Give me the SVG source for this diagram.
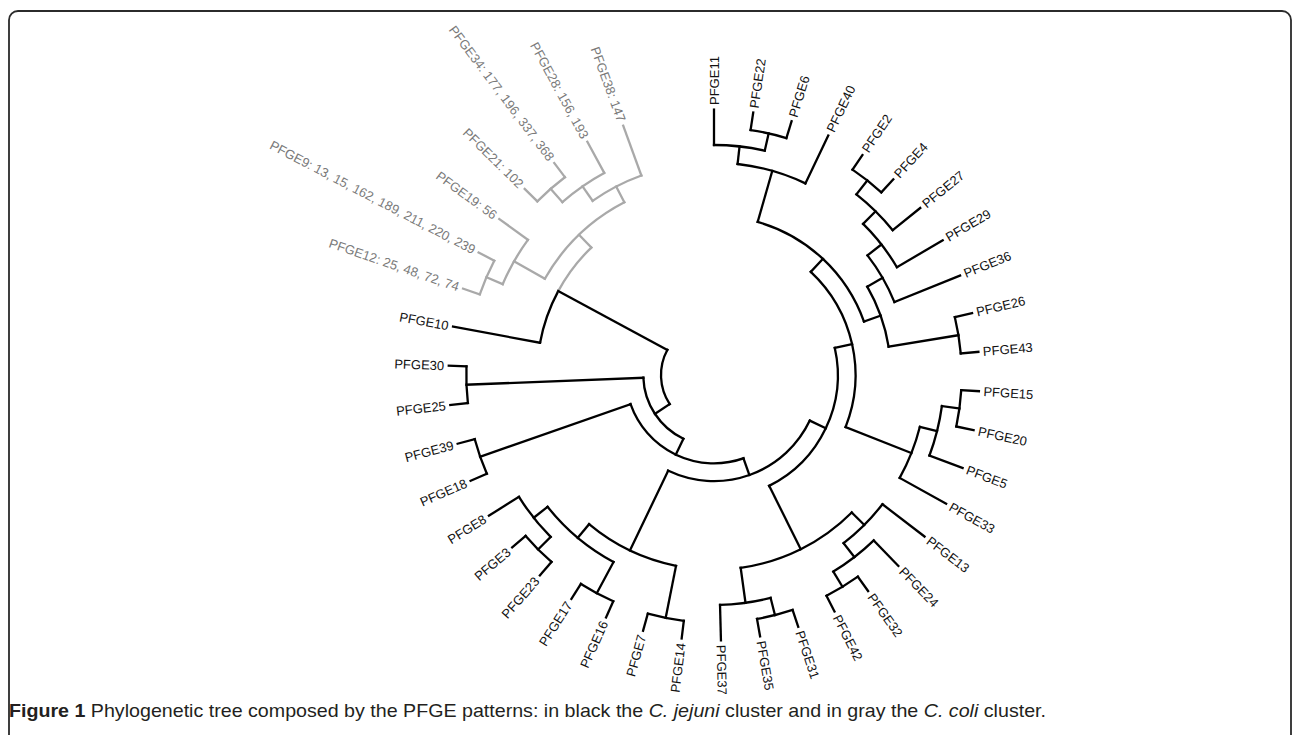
<svg xmlns="http://www.w3.org/2000/svg" width="1293" height="735" viewBox="0 0 1293 735">
<style>
.b{stroke:#000;stroke-width:2.3;fill:none;stroke-linecap:square}
.g{stroke:#a9a9a9;stroke-width:2.3;fill:none;stroke-linecap:square}
text{font-family:"Liberation Sans",Arial,sans-serif}
.t{font-size:13px;fill:#111}
.tg{font-size:13px;fill:#7a7a7a}
.l{text-anchor:end}
</style>
<rect x="9" y="11" width="1282" height="800" rx="9" fill="#fff" stroke="#2b2b2b" stroke-width="1.8"/>
<g transform="translate(714,375)">
<g id="connectors">
<circle class="b" r="247.7" stroke-dasharray="36.75 2000" transform="rotate(-81.5)"/>
<circle class="b" r="230" stroke-dasharray="51.18 2000" transform="rotate(-90)"/>
<circle class="b" r="212.3" stroke-dasharray="70.87 2000" transform="rotate(-83.625)"/>
<circle class="b" r="247.7" stroke-dasharray="36.75 2000" transform="rotate(-56)"/>
<circle class="b" r="230" stroke-dasharray="51.18 2000" transform="rotate(-51.75)"/>
<circle class="b" r="212.3" stroke-dasharray="55.12 2000" transform="rotate(-45.375)"/>
<circle class="b" r="194.6" stroke-dasharray="54.13 2000" transform="rotate(-37.9375)"/>
<circle class="b" r="247.7" stroke-dasharray="36.75 2000" transform="rotate(-13.5)"/>
<circle class="b" r="176.9" stroke-dasharray="63.97 2000" transform="rotate(-29.969)"/>
<circle class="b" r="159.2" stroke-dasharray="151.30 2000" transform="rotate(-74.0625)"/>
<circle class="b" r="247.7" stroke-dasharray="36.75 2000" transform="rotate(3.5)"/>
<circle class="b" r="230" stroke-dasharray="51.18 2000" transform="rotate(7.75)"/>
<circle class="b" r="212.3" stroke-dasharray="55.12 2000" transform="rotate(14.125)"/>
<circle class="b" r="141.5" stroke-dasharray="168.92 2000" transform="rotate(-46.836)"/>
<circle class="b" r="247.7" stroke-dasharray="36.75 2000" transform="rotate(54.5)"/>
<circle class="b" r="230" stroke-dasharray="51.18 2000" transform="rotate(46)"/>
<circle class="b" r="212.3" stroke-dasharray="55.12 2000" transform="rotate(37.5)"/>
<circle class="b" r="247.7" stroke-dasharray="36.75 2000" transform="rotate(71.5)"/>
<circle class="b" r="230" stroke-dasharray="51.18 2000" transform="rotate(75.75)"/>
<circle class="b" r="194.6" stroke-dasharray="126.30 2000" transform="rotate(44.9375)"/>
<circle class="b" r="123.8" stroke-dasharray="164.58 2000" transform="rotate(-12.637)"/>
<circle class="b" r="247.7" stroke-dasharray="36.75 2000" transform="rotate(97)"/>
<circle class="b" r="247.7" stroke-dasharray="36.75 2000" transform="rotate(114)"/>
<circle class="b" r="247.7" stroke-dasharray="36.75 2000" transform="rotate(131)"/>
<circle class="b" r="230" stroke-dasharray="51.18 2000" transform="rotate(135.25)"/>
<circle class="b" r="212.3" stroke-dasharray="86.61 2000" transform="rotate(118.25)"/>
<circle class="b" r="194.6" stroke-dasharray="97.43 2000" transform="rotate(101.25)"/>
<circle class="b" r="106.1" stroke-dasharray="166.93 2000" transform="rotate(25.447)"/>
<circle class="b" r="247.7" stroke-dasharray="36.75 2000" transform="rotate(156.5)"/>
<circle class="b" r="88.4" stroke-dasharray="139.21 2000" transform="rotate(70.52)"/>
<circle class="b" r="247.7" stroke-dasharray="36.75 2000" transform="rotate(173.5)"/>
<circle class="b" r="70.7" stroke-dasharray="76.65 2000" transform="rotate(115.635)"/>
<circle class="b" r="53" stroke-dasharray="56.99 2000" transform="rotate(146.69)"/>
<circle class="b" r="176.9" stroke-dasharray="54.95 2000" transform="rotate(190.5)"/>
<circle class="g" r="176.9" stroke-dasharray="54.95 2000" transform="rotate(208.297)"/>
<circle class="g" r="194.6" stroke-dasharray="111.87 2000" transform="rotate(209.625)"/>
<circle class="g" r="247.7" stroke-dasharray="36.75 2000" transform="rotate(199)"/>
<circle class="g" r="230" stroke-dasharray="51.18 2000" transform="rotate(203.25)"/>
<circle class="g" r="247.7" stroke-dasharray="36.75 2000" transform="rotate(224.5)"/>
<circle class="g" r="230" stroke-dasharray="51.18 2000" transform="rotate(228.75)"/>
<circle class="g" r="212.3" stroke-dasharray="55.12 2000" transform="rotate(235.125)"/>
<line class="b" x1="230" x2="265.4" transform="rotate(-90)"/>
<line class="b" x1="247.7" x2="265.4" transform="rotate(-81.5)"/>
<line class="b" x1="247.7" x2="265.4" transform="rotate(-73)"/>
<line class="b" x1="212.3" x2="265.4" transform="rotate(-64.5)"/>
<line class="b" x1="247.7" x2="265.4" transform="rotate(-56)"/>
<line class="b" x1="247.7" x2="265.4" transform="rotate(-47.5)"/>
<line class="b" x1="230" x2="265.4" transform="rotate(-39)"/>
<line class="b" x1="212.3" x2="265.4" transform="rotate(-30.5)"/>
<line class="b" x1="194.6" x2="265.4" transform="rotate(-22)"/>
<line class="b" x1="247.7" x2="265.4" transform="rotate(-13.5)"/>
<line class="b" x1="247.7" x2="265.4" transform="rotate(-5)"/>
<line class="b" x1="247.7" x2="265.4" transform="rotate(3.5)"/>
<line class="b" x1="247.7" x2="265.4" transform="rotate(12)"/>
<line class="b" x1="230" x2="265.4" transform="rotate(20.5)"/>
<line class="b" x1="212.3" x2="265.4" transform="rotate(29)"/>
<line class="b" x1="212.3" x2="265.4" transform="rotate(37.5)"/>
<line class="b" x1="230" x2="265.4" transform="rotate(46)"/>
<line class="b" x1="247.7" x2="265.4" transform="rotate(54.5)"/>
<line class="b" x1="247.7" x2="265.4" transform="rotate(63)"/>
<line class="b" x1="247.7" x2="265.4" transform="rotate(71.5)"/>
<line class="b" x1="247.7" x2="265.4" transform="rotate(80)"/>
<line class="b" x1="230" x2="265.4" transform="rotate(88.5)"/>
<line class="b" x1="247.7" x2="265.4" transform="rotate(97)"/>
<line class="b" x1="247.7" x2="265.4" transform="rotate(105.5)"/>
<line class="b" x1="247.7" x2="265.4" transform="rotate(114)"/>
<line class="b" x1="247.7" x2="265.4" transform="rotate(122.5)"/>
<line class="b" x1="247.7" x2="265.4" transform="rotate(131)"/>
<line class="b" x1="247.7" x2="265.4" transform="rotate(139.5)"/>
<line class="b" x1="230" x2="265.4" transform="rotate(148)"/>
<line class="b" x1="247.7" x2="265.4" transform="rotate(156.5)"/>
<line class="b" x1="247.7" x2="265.4" transform="rotate(165)"/>
<line class="b" x1="247.7" x2="265.4" transform="rotate(173.5)"/>
<line class="b" x1="247.7" x2="265.4" transform="rotate(182)"/>
<line class="b" x1="176.9" x2="265.4" transform="rotate(190.5)"/>
<line class="g" x1="247.7" x2="265.4" transform="rotate(199)"/>
<line class="g" x1="247.7" x2="265.4" transform="rotate(207.5)"/>
<line class="g" x1="230" x2="265.4" transform="rotate(216)"/>
<line class="g" x1="247.7" x2="265.4" transform="rotate(224.5)"/>
<line class="g" x1="247.7" x2="265.4" transform="rotate(233)"/>
<line class="g" x1="230" x2="265.4" transform="rotate(241.5)"/>
<line class="g" x1="212.3" x2="265.4" transform="rotate(250)"/>
<line class="b" x1="230" x2="247.7" transform="rotate(-77.25)"/>
<line class="b" x1="212.3" x2="230" transform="rotate(-83.625)"/>
<line class="b" x1="159.2" x2="212.3" transform="rotate(-74.0625)"/>
<line class="b" x1="230" x2="247.7" transform="rotate(-51.75)"/>
<line class="b" x1="212.3" x2="230" transform="rotate(-45.375)"/>
<line class="b" x1="194.6" x2="212.3" transform="rotate(-37.9375)"/>
<line class="b" x1="176.9" x2="194.6" transform="rotate(-29.969)"/>
<line class="b" x1="176.9" x2="247.7" transform="rotate(-9.25)"/>
<line class="b" x1="159.2" x2="176.9" transform="rotate(-19.609)"/>
<line class="b" x1="141.5" x2="159.2" transform="rotate(-46.836)"/>
<line class="b" x1="230" x2="247.7" transform="rotate(7.75)"/>
<line class="b" x1="212.3" x2="230" transform="rotate(14.125)"/>
<line class="b" x1="141.5" x2="212.3" transform="rotate(21.5625)"/>
<line class="b" x1="123.8" x2="141.5" transform="rotate(-12.637)"/>
<line class="b" x1="230" x2="247.7" transform="rotate(58.75)"/>
<line class="b" x1="212.3" x2="230" transform="rotate(52.375)"/>
<line class="b" x1="194.6" x2="212.3" transform="rotate(44.9375)"/>
<line class="b" x1="230" x2="247.7" transform="rotate(75.75)"/>
<line class="b" x1="194.6" x2="230" transform="rotate(82.125)"/>
<line class="b" x1="123.8" x2="194.6" transform="rotate(63.531)"/>
<line class="b" x1="106.1" x2="123.8" transform="rotate(25.447)"/>
<line class="b" x1="194.6" x2="247.7" transform="rotate(101.25)"/>
<line class="b" x1="212.3" x2="247.7" transform="rotate(118.25)"/>
<line class="b" x1="230" x2="247.7" transform="rotate(135.25)"/>
<line class="b" x1="212.3" x2="230" transform="rotate(141.625)"/>
<line class="b" x1="194.6" x2="212.3" transform="rotate(129.9375)"/>
<line class="b" x1="106.1" x2="194.6" transform="rotate(115.594)"/>
<line class="b" x1="88.4" x2="106.1" transform="rotate(70.52)"/>
<line class="b" x1="88.4" x2="247.7" transform="rotate(160.75)"/>
<line class="b" x1="70.7" x2="88.4" transform="rotate(115.635)"/>
<line class="b" x1="70.7" x2="247.7" transform="rotate(177.75)"/>
<line class="b" x1="53" x2="70.7" transform="rotate(146.69)"/>
<line class="g" x1="230" x2="247.7" transform="rotate(203.25)"/>
<line class="g" x1="194.6" x2="230" transform="rotate(209.625)"/>
<line class="g" x1="230" x2="247.7" transform="rotate(228.75)"/>
<line class="g" x1="212.3" x2="230" transform="rotate(235.125)"/>
<line class="g" x1="194.6" x2="212.3" transform="rotate(242.5625)"/>
<line class="g" x1="176.9" x2="194.6" transform="rotate(226.094)"/>
<line class="b" x1="53" x2="176.9" transform="rotate(208.297)"/>
</g>
<g id="leaves">
<g id="pfge11"><text class="t" x="270" dy="0.35em" transform="rotate(-90)">PFGE11</text></g>
<g id="pfge22"><text class="t" x="270" dy="0.35em" transform="rotate(-81.5)">PFGE22</text></g>
<g id="pfge6"><text class="t" x="270" dy="0.35em" transform="rotate(-73)">PFGE6</text></g>
<g id="pfge40"><text class="t" x="270" dy="0.35em" transform="rotate(-64.5)">PFGE40</text></g>
<g id="pfge2"><text class="t" x="270" dy="0.35em" transform="rotate(-56)">PFGE2</text></g>
<g id="pfge4"><text class="t" x="270" dy="0.35em" transform="rotate(-47.5)">PFGE4</text></g>
<g id="pfge27"><text class="t" x="270" dy="0.35em" transform="rotate(-39)">PFGE27</text></g>
<g id="pfge29"><text class="t" x="270" dy="0.35em" transform="rotate(-30.5)">PFGE29</text></g>
<g id="pfge36"><text class="t" x="270" dy="0.35em" transform="rotate(-22)">PFGE36</text></g>
<g id="pfge26"><text class="t" x="270" dy="0.35em" transform="rotate(-13.5)">PFGE26</text></g>
<g id="pfge43"><text class="t" x="270" dy="0.35em" transform="rotate(-5)">PFGE43</text></g>
<g id="pfge15"><text class="t" x="270" dy="0.35em" transform="rotate(3.5)">PFGE15</text></g>
<g id="pfge20"><text class="t" x="270" dy="0.35em" transform="rotate(12)">PFGE20</text></g>
<g id="pfge5"><text class="t" x="270" dy="0.35em" transform="rotate(20.5)">PFGE5</text></g>
<g id="pfge33"><text class="t" x="270" dy="0.35em" transform="rotate(29)">PFGE33</text></g>
<g id="pfge13"><text class="t" x="270" dy="0.35em" transform="rotate(37.5)">PFGE13</text></g>
<g id="pfge24"><text class="t" x="270" dy="0.35em" transform="rotate(46)">PFGE24</text></g>
<g id="pfge32"><text class="t" x="270" dy="0.35em" transform="rotate(54.5)">PFGE32</text></g>
<g id="pfge42"><text class="t" x="270" dy="0.35em" transform="rotate(63)">PFGE42</text></g>
<g id="pfge31"><text class="t" x="270" dy="0.35em" transform="rotate(71.5)">PFGE31</text></g>
<g id="pfge35"><text class="t" x="270" dy="0.35em" transform="rotate(80)">PFGE35</text></g>
<g id="pfge37"><text class="t" x="270" dy="0.35em" transform="rotate(88.5)">PFGE37</text></g>
<g id="pfge14"><text class="t l" x="-270" dy="0.35em" transform="rotate(-83)">PFGE14</text></g>
<g id="pfge7"><text class="t l" x="-270" dy="0.35em" transform="rotate(-74.5)">PFGE7</text></g>
<g id="pfge16"><text class="t l" x="-270" dy="0.35em" transform="rotate(-66)">PFGE16</text></g>
<g id="pfge17"><text class="t l" x="-270" dy="0.35em" transform="rotate(-57.5)">PFGE17</text></g>
<g id="pfge23"><text class="t l" x="-270" dy="0.35em" transform="rotate(-49)">PFGE23</text></g>
<g id="pfge3"><text class="t l" x="-270" dy="0.35em" transform="rotate(-40.5)">PFGE3</text></g>
<g id="pfge8"><text class="t l" x="-270" dy="0.35em" transform="rotate(-32)">PFGE8</text></g>
<g id="pfge18"><text class="t l" x="-270" dy="0.35em" transform="rotate(-23.5)">PFGE18</text></g>
<g id="pfge39"><text class="t l" x="-270" dy="0.35em" transform="rotate(-15)">PFGE39</text></g>
<g id="pfge25"><text class="t l" x="-270" dy="0.35em" transform="rotate(-6.5)">PFGE25</text></g>
<g id="pfge30"><text class="t l" x="-270" dy="0.35em" transform="rotate(2)">PFGE30</text></g>
<g id="pfge10"><text class="t l" x="-270" dy="0.35em" transform="rotate(10.5)">PFGE10</text></g>
<g id="pfge12"><text class="tg l" x="-270" dy="0.35em" transform="rotate(19)">PFGE12: 25, 48, 72, 74</text></g>
<g id="pfge9"><text class="tg l" x="-270" dy="0.35em" transform="rotate(27.5)">PFGE9: 13, 15, 162, 189, 211, 220, 239</text></g>
<g id="pfge19"><text class="tg l" x="-270" dy="0.35em" transform="rotate(36)">PFGE19: 56</text></g>
<g id="pfge21"><text class="tg l" x="-270" dy="0.35em" transform="rotate(44.5)">PFGE21: 102</text></g>
<g id="pfge34"><text class="tg l" x="-270" dy="0.35em" transform="rotate(53)">PFGE34: 177, 196, 337, 368</text></g>
<g id="pfge28"><text class="tg l" x="-270" dy="0.35em" transform="rotate(61.5)">PFGE28: 156, 193</text></g>
<g id="pfge38"><text class="tg l" x="-270" dy="0.35em" transform="rotate(70)">PFGE38: 147</text></g>
</g>
</g>
<g id="caption"><text x="9" y="717" font-size="18.5" fill="#231f20" textLength="1037" lengthAdjust="spacingAndGlyphs"><tspan font-weight="bold">Figure 1</tspan> Phylogenetic tree composed by the PFGE patterns: in black the <tspan font-style="italic">C. jejuni</tspan> cluster and in gray the <tspan font-style="italic">C. coli</tspan> cluster.</text></g>
</svg>
